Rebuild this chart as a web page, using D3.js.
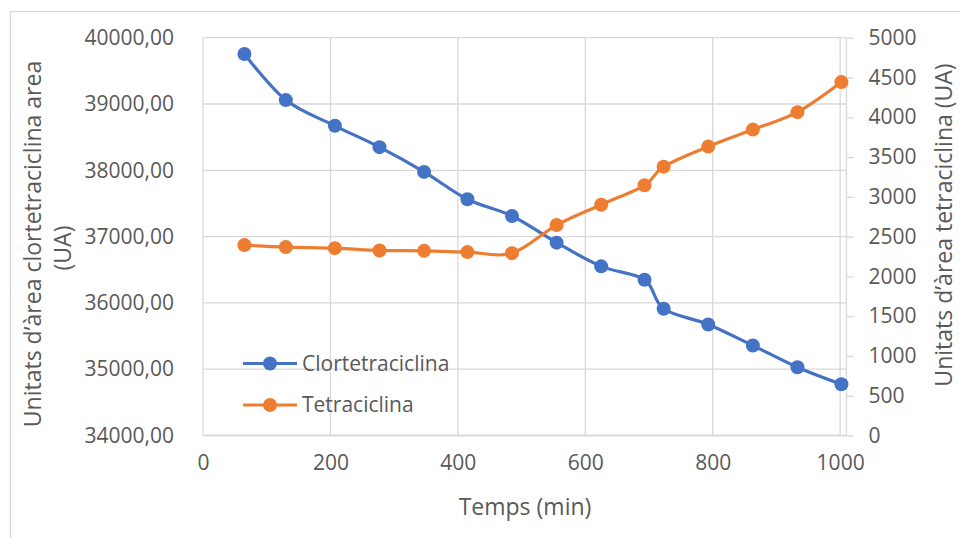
<!DOCTYPE html>
<html>
<head>
<meta charset="utf-8">
<script src="https://cdn.jsdelivr.net/npm/d3@7"></script>
<style>
  html, body { margin: 0; padding: 0; background: #fff; }
  svg { display: block; }
  text { font-family: "Open Sans", "Liberation Sans", sans-serif; fill: #595959; }
</style>
</head>
<body>
<svg id="chart" width="960" height="538"></svg>
<script>
// ---- data ----
const timeMin = [65, 130, 207, 277, 347, 415, 485, 555, 625, 693, 723, 793, 863, 933, 1002];
const clortetraciclina = [39754, 39059, 38671, 38349, 37976, 37563, 37311, 36909, 36551, 36350, 35912, 35675, 35358, 35030, 34773];
const tetraciclina = [2393, 2368, 2355, 2326, 2321, 2305, 2292, 2645, 2901, 3145, 3379, 3631, 3845, 4064, 4442];
const xTicks = [0, 200, 400, 600, 800, 1000];
const leftTicks = [34000, 35000, 36000, 37000, 38000, 39000, 40000];
const rightTicks = [0, 500, 1000, 1500, 2000, 2500, 3000, 3500, 4000, 4500, 5000];
const seriesNames = ["Clortetraciclina", "Tetraciclina"];
const seriesColors = ["#4472C4", "#ED7D31"];

// ---- layout ----
const L = 203, R = 846.5, T = 37.7, B = 435.5;
const svg = d3.select("#chart");
const x = d3.scaleLinear().domain([0, 1010]).range([L, R]);
const yL = d3.scaleLinear().domain([34000, 40000]).range([B, T]);
const yR = d3.scaleLinear().domain([0, 5000]).range([B, T]);
const grid = "#d9d9d9";
const tickFont = 21, titleFont = 23;

// chart border
svg.append("rect").attr("x", 10.5).attr("y", 11.5).attr("width", 970).attr("height", 560)
  .attr("fill", "none").attr("stroke", grid).attr("stroke-width", 1.3);

// gridlines
svg.append("g").selectAll("line").data(leftTicks).join("line")
  .attr("x1", L).attr("x2", R).attr("y1", d => yL(d)).attr("y2", d => yL(d))
  .attr("stroke", grid).attr("stroke-width", 1.3);
svg.append("g").selectAll("line").data(xTicks.filter(d => d > 0)).join("line")
  .attr("x1", d => x(d)).attr("x2", d => x(d)).attr("y1", T).attr("y2", B)
  .attr("stroke", grid).attr("stroke-width", 1.3);

// axis lines
svg.append("line").attr("x1", L).attr("x2", L).attr("y1", T).attr("y2", B).attr("stroke", grid).attr("stroke-width", 1.3);
svg.append("line").attr("x1", L).attr("x2", R).attr("y1", B).attr("y2", B).attr("stroke", grid).attr("stroke-width", 1.3);

// right axis
const rightAxis = svg.append("g").attr("transform", `translate(${R},0)`)
  .call(d3.axisRight(yR).tickValues(rightTicks).tickSize(7).tickPadding(15).tickFormat(d3.format("d")));
rightAxis.select(".domain").attr("stroke", grid).attr("stroke-width", 1.3).attr("d", `M0,${T}V${B}`);
rightAxis.selectAll(".tick line").attr("stroke", grid).attr("stroke-width", 1.3);
rightAxis.selectAll(".tick text").attr("font-size", tickFont).attr("fill", "#595959")
  .attr("font-family", "'Open Sans', sans-serif");

// left axis
const fmtL = v => d3.format(".2f")(v).replace(".", ",");
const leftAxis = svg.append("g").attr("transform", `translate(${L},0)`)
  .call(d3.axisLeft(yL).tickValues(leftTicks).tickSize(0).tickPadding(29).tickFormat(fmtL));
leftAxis.select(".domain").remove();
leftAxis.selectAll(".tick text").attr("font-size", tickFont).attr("fill", "#595959")
  .attr("font-family", "'Open Sans', sans-serif");

// bottom axis
const bottomAxis = svg.append("g").attr("transform", `translate(0,${B})`)
  .call(d3.axisBottom(x).tickValues(xTicks).tickSize(0).tickPadding(20).tickFormat(d3.format("d")));
bottomAxis.select(".domain").remove();
bottomAxis.selectAll(".tick text").attr("font-size", tickFont).attr("fill", "#595959")
  .attr("font-family", "'Open Sans', sans-serif");

// axis titles
const lt = svg.append("text").attr("transform", "rotate(-90)")
  .attr("text-anchor", "middle").attr("font-size", titleFont);
lt.append("tspan").attr("x", -244).attr("y", 41).text("Unitats d\u2019àrea clortetraciclina area");
lt.append("tspan").attr("x", -248).attr("y", 71).text("(UA)");

svg.append("text").attr("transform", "translate(952,225) rotate(-90)")
  .attr("text-anchor", "middle").attr("font-size", titleFont)
  .text("Unitats d\u2019àrea tetraciclina (UA)");

svg.append("text").attr("x", 525).attr("y", 515).attr("text-anchor", "middle")
  .attr("font-size", titleFont).text("Temps (min)");

// series
const curve = d3.curveCardinal.tension(0);
const series = [
  { vals: clortetraciclina, y: yL },
  { vals: tetraciclina, y: yR }
];
series.forEach((s, i) => {
  const pts = timeMin.map((t, j) => [t, s.vals[j]]);
  const line = d3.line().x(d => x(d[0])).y(d => s.y(d[1])).curve(curve);
  svg.append("path").attr("d", line(pts)).attr("fill", "none")
    .attr("stroke", seriesColors[i]).attr("stroke-width", 3.2).attr("stroke-linejoin", "round");
  svg.append("g").selectAll("circle").data(pts).join("circle")
    .attr("cx", d => x(d[0])).attr("cy", d => s.y(d[1])).attr("r", 7)
    .attr("fill", seriesColors[i]);
});

// legend
const legY = [363.5, 405];
seriesNames.forEach((name, i) => {
  const g = svg.append("g");
  g.append("line").attr("x1", 243).attr("x2", 297).attr("y1", legY[i]).attr("y2", legY[i])
    .attr("stroke", seriesColors[i]).attr("stroke-width", 3.2);
  g.append("circle").attr("cx", 270).attr("cy", legY[i]).attr("r", 7).attr("fill", seriesColors[i]);
  g.append("text").attr("x", 302).attr("y", legY[i]).attr("dy", "0.35em")
    .attr("font-size", tickFont).text(name);
});
</script>
</body>
</html>
